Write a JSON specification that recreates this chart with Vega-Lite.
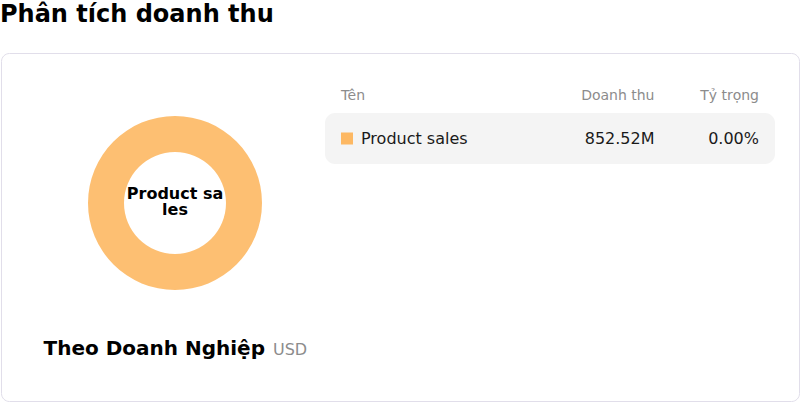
{
  "$schema": "https://vega.github.io/schema/vega-lite/v6.json",
  "width": 798,
  "height": 348,
  "autosize": {"type": "none"},
  "padding": {"left": 1, "top": 53, "right": 1, "bottom": 1},
  "title": {
    "text": "Phân tích doanh thu",
    "anchor": "start",
    "font": "DejaVu Sans",
    "fontSize": 24,
    "fontWeight": "bold",
    "color": "#000000",
    "offset": 26,
    "dx": -1
  },
  "datasets": {
    "sales": [
      {"name": "Product sales", "revenue": 852520000, "share": 0}
    ],
    "columns": [
      {"col": "name", "title": "Tên"},
      {"col": "amount", "title": "Doanh thu"},
      {"col": "share", "title": "Tỷ trọng"}
    ]
  },
  "data": {"name": "sales"},
  "layer": [
    {
      "mark": {"type": "arc", "outerRadius": 87, "innerRadius": 51, "opacity": 0.9},
      "encoding": {
        "theta": {"field": "revenue", "type": "quantitative"},
        "x": {"datum": "donut", "type": "nominal", "scale": {"type": "point", "range": [0, 348]}, "axis": null},
        "y": {"datum": "donut", "type": "nominal", "scale": {"type": "point", "domain": ["donut", "caption"], "range": [150, 302], "padding": 0}, "axis": null},
        "color": {"field": "name", "type": "nominal", "scale": {"domain": ["Product sales"], "range": ["#FDB863"]}, "legend": null}
      }
    },
    {
      "transform": [
        {"calculate": "[slice(datum.name, 0, 10), slice(datum.name, 10)]", "as": "centerLabel"}
      ],
      "mark": {"type": "text", "fontSize": 16, "fontWeight": "bold", "lineHeight": 16, "baseline": "middle", "color": "#000000"},
      "encoding": {
        "text": {"field": "centerLabel"},
        "x": {"datum": "donut", "type": "nominal", "scale": {"type": "point", "range": [0, 348]}, "axis": null},
        "y": {"datum": "donut", "type": "nominal", "scale": {"type": "point", "domain": ["donut", "caption"], "range": [141, 302], "padding": 0}, "axis": null}
      }
    },
    {
      "mark": {"type": "text", "fontSize": 20, "fontWeight": "bold", "align": "right", "baseline": "alphabetic", "dx": 90, "color": "#000000"},
      "encoding": {
        "text": {"value": "Theo Doanh Nghiệp"},
        "x": {"datum": "donut", "type": "nominal", "scale": {"type": "point", "range": [0, 348]}, "axis": null},
        "y": {"datum": "caption", "type": "nominal", "scale": {"type": "point", "domain": ["donut", "caption"], "range": [150, 302], "padding": 0}, "axis": null}
      }
    },
    {
      "mark": {"type": "text", "fontSize": 16, "align": "left", "baseline": "alphabetic", "dx": 98, "color": "#8C8C8C"},
      "encoding": {
        "text": {"value": "USD"},
        "x": {"datum": "donut", "type": "nominal", "scale": {"type": "point", "range": [0, 348]}, "axis": null},
        "y": {"datum": "caption", "type": "nominal", "scale": {"type": "point", "domain": ["donut", "caption"], "range": [150, 302], "padding": 0}, "axis": null}
      }
    },
    {
      "data": {"name": "columns"},
      "mark": {"type": "text", "fontSize": 14, "baseline": "middle", "color": "#8C8C8C", "align": {"expr": "datum.col === 'name' ? 'left' : 'right'"}},
      "encoding": {
        "text": {"field": "title"},
        "x": {"field": "col", "type": "nominal", "scale": {"type": "point", "domain": ["name", "gap1", "gap2", "amount", "share"], "range": [340, 758], "padding": 0}, "axis": null},
        "y": {"datum": "header", "type": "nominal", "scale": {"type": "band", "range": [21, 65]}, "axis": null}
      }
    },
    {
      "mark": {"type": "rect", "color": "#F4F4F4", "cornerRadius": 10},
      "encoding": {
        "x": {"field": "name", "type": "nominal", "scale": {"type": "band", "range": [324, 774], "paddingInner": 0, "paddingOuter": 0}, "axis": null},
        "y": {"field": "name", "type": "nominal", "scale": {"type": "band", "range": [60, 111], "paddingInner": 0, "paddingOuter": 0}, "axis": null}
      }
    },
    {
      "mark": {"type": "point", "shape": "M0,-1H2V1H0Z", "size": 144, "filled": true, "opacity": 1},
      "encoding": {
        "x": {"datum": "name", "type": "nominal", "scale": {"type": "point", "domain": ["name", "gap1", "gap2", "amount", "share"], "range": [340, 758], "padding": 0}, "axis": null},
        "y": {"field": "name", "type": "nominal", "scale": {"type": "band", "range": [60, 111], "paddingInner": 0, "paddingOuter": 0}, "axis": null},
        "color": {"field": "name", "type": "nominal", "legend": null}
      }
    },
    {
      "mark": {"type": "text", "fontSize": 16, "align": "left", "baseline": "middle", "dx": 20, "color": "#1A1A1A"},
      "encoding": {
        "text": {"field": "name"},
        "x": {"datum": "name", "type": "nominal", "scale": {"type": "point", "domain": ["name", "gap1", "gap2", "amount", "share"], "range": [340, 758], "padding": 0}, "axis": null},
        "y": {"field": "name", "type": "nominal", "scale": {"type": "band", "range": [60, 111], "paddingInner": 0, "paddingOuter": 0}, "axis": null}
      }
    },
    {
      "mark": {"type": "text", "fontSize": 16, "align": "right", "baseline": "middle", "color": "#1A1A1A"},
      "encoding": {
        "text": {"field": "revenue", "type": "quantitative", "format": ".5s"},
        "x": {"datum": "amount", "type": "nominal", "scale": {"type": "point", "domain": ["name", "gap1", "gap2", "amount", "share"], "range": [340, 758], "padding": 0}, "axis": null},
        "y": {"field": "name", "type": "nominal", "scale": {"type": "band", "range": [60, 111], "paddingInner": 0, "paddingOuter": 0}, "axis": null}
      }
    },
    {
      "mark": {"type": "text", "fontSize": 16, "align": "right", "baseline": "middle", "color": "#1A1A1A"},
      "encoding": {
        "text": {"field": "share", "type": "quantitative", "format": ".2%"},
        "x": {"datum": "share", "type": "nominal", "scale": {"type": "point", "domain": ["name", "gap1", "gap2", "amount", "share"], "range": [340, 758], "padding": 0}, "axis": null},
        "y": {"field": "name", "type": "nominal", "scale": {"type": "band", "range": [60, 111], "paddingInner": 0, "paddingOuter": 0}, "axis": null}
      }
    }
  ],
  "resolve": {"scale": {"x": "independent", "y": "independent"}},
  "config": {
    "font": "DejaVu Sans",
    "view": {"stroke": "#E1DEEA", "strokeWidth": 1, "cornerRadius": 8}
  }
}
